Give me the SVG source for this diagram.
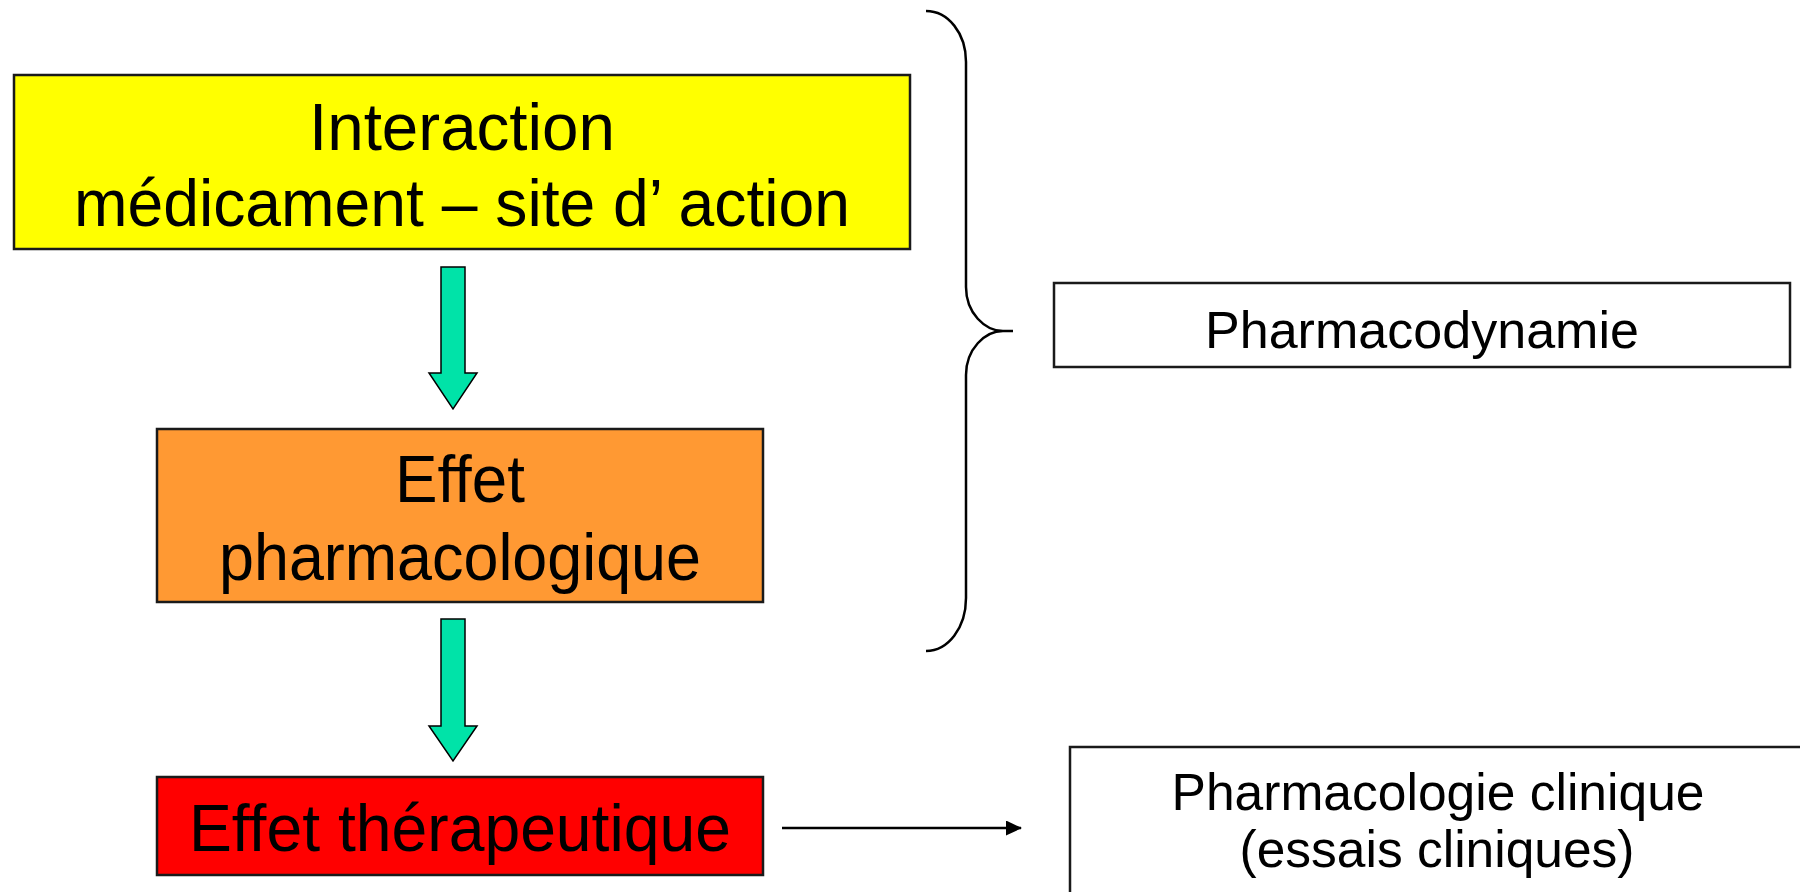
<svg xmlns="http://www.w3.org/2000/svg" width="1800" height="892" viewBox="0 0 1800 892">
<defs>
<style>
.box{stroke:#1a1a1a;stroke-width:2.5}
.t{font-family:"Liberation Sans",Arial,sans-serif;fill:#000;text-anchor:middle}
.big{font-size:66px}
.mid{font-size:52px}
.garrow{fill:#00E3A8;stroke:#000;stroke-width:1.5;stroke-linejoin:miter}
.line{fill:none;stroke:#000;stroke-width:2.5}
</style>
<marker id="ah" markerWidth="16" markerHeight="16" refX="15" refY="7.5" orient="auto" markerUnits="userSpaceOnUse">
<path d="M0,0 L16,7.5 L0,15 Z" fill="#000"/>
</marker>
</defs>
<rect width="1800" height="892" fill="#fff"/>

<g id="node-interaction">
<rect class="box" x="14" y="75" width="896" height="174" fill="#FFFF00"/>
<text class="t big" x="462" y="150" textLength="306" lengthAdjust="spacingAndGlyphs">Interaction</text>
<text class="t big" x="462" y="226" textLength="776" lengthAdjust="spacingAndGlyphs">médicament – site d’ action</text>
</g>

<g id="node-effet-pharmaco">
<rect class="box" x="157" y="429" width="606" height="173" fill="#FF9933"/>
<text class="t big" x="460" y="502" textLength="130" lengthAdjust="spacingAndGlyphs">Effet</text>
<text class="t big" x="460" y="580" textLength="482" lengthAdjust="spacingAndGlyphs">pharmacologique</text>
</g>

<g id="node-effet-therapeutique">
<rect class="box" x="157" y="777" width="606" height="98" fill="#FF0000"/>
<text class="t big" x="460" y="851" textLength="542" lengthAdjust="spacingAndGlyphs">Effet thérapeutique</text>
</g>

<g id="node-pharmacodynamie">
<rect class="box" x="1054" y="283" width="736" height="84" fill="#fff"/>
<text class="t mid" x="1422" y="348" textLength="434" lengthAdjust="spacingAndGlyphs">Pharmacodynamie</text>
</g>

<g id="node-clinique">
<rect class="box" x="1070" y="747" width="760" height="200" fill="#fff"/>
<text class="t mid" x="1438" y="810" textLength="533" lengthAdjust="spacingAndGlyphs">Pharmacologie clinique</text>
<text class="t mid" x="1437" y="867" textLength="395" lengthAdjust="spacingAndGlyphs">(essais cliniques)</text>
</g>

<g id="connectors">
<path class="garrow" d="M441,267 L465,267 L465,373 L477,373 L453,409 L429,373 L441,373 Z"/>
<path class="garrow" d="M441,619 L465,619 L465,726 L477,726 L453,761 L429,726 L441,726 Z"/>
<path class="line" d="M926,11 C948,11 966,33 966,62 L966,287 C966,313 985,331 1003,331 L1013,331 M1003,331 C985,331 966,349 966,375 L966,598 C966,628 948,651 926,651"/>
<line class="line" x1="782" y1="828" x2="1021" y2="828" marker-end="url(#ah)"/>
</g>
</svg>
